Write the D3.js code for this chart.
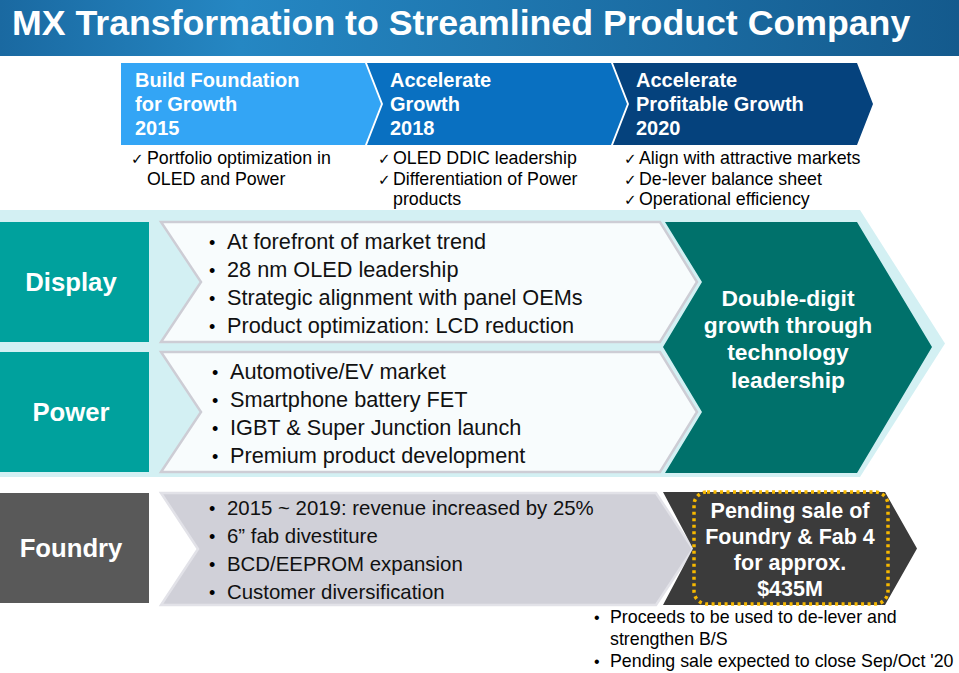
<!DOCTYPE html>
<html>
<head>
<meta charset="utf-8">
<script src="https://cdn.jsdelivr.net/npm/d3@7"></script>
<style>
  html, body { margin: 0; padding: 0; background: #fff; }
  svg { display: block; font-family: "Liberation Sans", Arial, sans-serif; }
</style>
</head>
<body>
<svg id="chart" width="959" height="673"></svg>
<script>
// ---- content ----
const title = 'MX Transformation to Streamlined Product Company';

const phases = [
  ['Build Foundation', 'for Growth', '2015'],
  ['Accelerate', 'Growth', '2018'],
  ['Accelerate', 'Profitable Growth', '2020']
];
const phaseColors = ['#33a5f5', '#0970c1', '#05427d'];
const phaseChecks = [
  [['Portfolio optimization in', 'OLED and Power']],
  [['OLED DDIC leadership'], ['Differentiation of Power', 'products']],
  [['Align with attractive markets'], ['De-lever balance sheet'], ['Operational efficiency']]
];

const segments = ['Display', 'Power', 'Foundry'];
const segmentColors = ['#00a19d', '#00a19d', '#595959'];
const segmentBullets = [
  ['At forefront of market trend', '28 nm OLED leadership', 'Strategic alignment with panel OEMs', 'Product optimization: LCD reduction'],
  ['Automotive/EV market', 'Smartphone battery FET', 'IGBT & Super Junction launch', 'Premium product development'],
  ['2015 ~ 2019: revenue increased by 25%', '6\u201d fab divestiture', 'BCD/EEPROM expansion', 'Customer diversification']
];

const growthText = ['Double-digit', 'growth through', 'technology', 'leadership'];
const saleText = ['Pending sale of', 'Foundry & Fab 4', 'for approx.', '$435M'];
const saleNotes = [['Proceeds to be used to de-lever and', 'strengthen B/S'], ['Pending sale expected to close Sep/Oct \'20']];

// ---- layout ----
const W = 959, H = 673;
const svg = d3.select('#chart');
const defs = svg.append('defs');

// chevron path: flat or notched left edge, pointed or flat right edge
function chevron(x0, x1, y0, y1, notch, tip) {
  const ym = (y0 + y1) / 2;
  const p = d3.path();
  p.moveTo(x0, y0);
  p.lineTo(x1, y0);
  if (tip) p.lineTo(x1 + tip, ym);
  p.lineTo(x1, y1);
  p.lineTo(x0, y1);
  if (notch) p.lineTo(x0 + notch, ym);
  p.closePath();
  return p.toString();
}

function lines(g, arr, x, y0, step, opts) {
  const t = g.append('text')
    .attr('x', x).attr('y', y0)
    .attr('fill', opts.fill || '#000')
    .attr('font-size', opts.size)
    .attr('font-weight', opts.weight || 'normal')
    .attr('text-anchor', opts.anchor || 'start');
  arr.forEach((s, i) => {
    t.append('tspan').attr('x', x).attr('y', y0 + i * step).text(s);
  });
  return t;
}

// title bar
const grad = defs.append('linearGradient').attr('id', 'tg').attr('x1', 0).attr('x2', 1);
grad.append('stop').attr('offset', 0).attr('stop-color', '#1a69a1');
grad.append('stop').attr('offset', 0.25).attr('stop-color', '#2587c3');
grad.append('stop').attr('offset', 1).attr('stop-color', '#145a8d');
svg.append('rect').attr('width', W).attr('height', 56).attr('fill', 'url(#tg)');
svg.append('text').attr('x', 12).attr('y', 35)
  .attr('fill', '#fff').attr('font-size', 35.7).attr('font-weight', 'bold')
  .text(title);

// phase chevrons
const phaseX = d3.scalePoint().domain(d3.range(phases.length)).range([121, 613]);
const phaseW = 244, phaseTop = 63, phaseBot = 145, phaseTip = 16;
const pg = svg.append('g');
phases.forEach((ph, i) => {
  const x = phaseX(i);
  pg.append('path')
    .attr('d', chevron(x, x + phaseW, phaseTop, phaseBot, i === 0 ? 0 : phaseTip, phaseTip))
    .attr('fill', phaseColors[i]);
  lines(pg, ph, x + (i === 0 ? 14 : 23), 87, 24, { fill: '#fff', size: 20, weight: 'bold' });

  let y = 164;
  phaseChecks[i].forEach(item => {
    pg.append('text').attr('x', x + (i === 0 ? 10 : 11)).attr('y', y)
      .attr('font-size', 15).attr('font-family', 'DejaVu Sans').text('\u2713');
    lines(pg, item, x + 26, y, 20.5, { size: 17.8 });
    y += item.length * 20.5;
  });
});

// light panel behind Display / Power
svg.append('path')
  .attr('d', chevron(0, 860, 210, 477, 0, 85))
  .attr('fill', '#d3f0f3');

// segment rows
const rowTop = [222, 352, 493];
const rowH = 120;
const bulletSize = [21.7, 21.7, 20.4];
const sg = svg.append('g');
segments.forEach((s, i) => {
  const y0 = rowTop[i], y1 = y0 + (i === 2 ? 110 : rowH);
  const ym = (y0 + y1) / 2;
  sg.append('rect').attr('x', 0).attr('y', y0).attr('width', 149).attr('height', y1 - y0)
    .attr('fill', segmentColors[i]);
  sg.append('text').attr('x', 71).attr('y', ym + 9)
    .attr('text-anchor', 'middle').attr('fill', '#fff')
    .attr('font-size', 25.7).attr('font-weight', 'bold').text(s);

  const foundry = i === 2;
  sg.append('path')
    .attr('d', chevron(161, foundry ? 656 : 660, y0, y1 + (foundry ? 2 : 0), foundry ? 37 : 40, 37))
    .attr('fill', foundry ? '#d0d0d8' : '#f8fcfd')
    .attr('stroke', foundry ? '#e2e2e8' : '#cdcdd5')
    .attr('stroke-width', 2.5);

  const tx = i === 1 ? 230 : 227;
  const step = 28;
  const first = ym - 33;
  segmentBullets[i].forEach((b, j) => {
    sg.append('text').attr('x', tx - 18).attr('y', first + j * step)
      .attr('font-size', 18).text('\u2022');
    sg.append('text').attr('x', tx).attr('y', first + j * step)
      .attr('font-size', bulletSize[i]).attr('fill', '#111').text(b);
  });
});

// growth chevron (teal, zig-zag left edge following the two rows)
const gp = d3.path();
gp.moveTo(665, 222);
gp.lineTo(857, 222);
gp.lineTo(932, 347);
gp.lineTo(857, 473);
gp.lineTo(665, 473);
gp.lineTo(702, 412);
gp.lineTo(663, 347);
gp.lineTo(702, 282);
gp.closePath();
svg.append('path').attr('d', gp.toString()).attr('fill', '#00716b');
lines(svg, growthText, 788, 306, 27.2, { fill: '#fff', size: 22.8, weight: 'bold', anchor: 'middle' });

// sale chevron
svg.append('path')
  .attr('d', chevron(663, 885, 492, 605, 30, 32))
  .attr('fill', '#3b3b3b');
svg.append('rect').attr('x', 694).attr('y', 492).attr('width', 194).attr('height', 112)
  .attr('rx', 13).attr('fill', 'none')
  .attr('stroke', '#f6b800').attr('stroke-width', 3.5)
  .attr('stroke-dasharray', '3 3.5');
lines(svg, saleText, 790, 518, 26, { fill: '#fff', size: 21.5, weight: 'bold', anchor: 'middle' });

// notes under the sale
let ny = 623;
saleNotes.forEach(n => {
  svg.append('text').attr('x', 594).attr('y', ny).attr('font-size', 16).text('\u2022');
  lines(svg, n, 610, ny, 22, { size: 17.8 });
  ny += n.length * 22;
});
</script>
</body>
</html>
